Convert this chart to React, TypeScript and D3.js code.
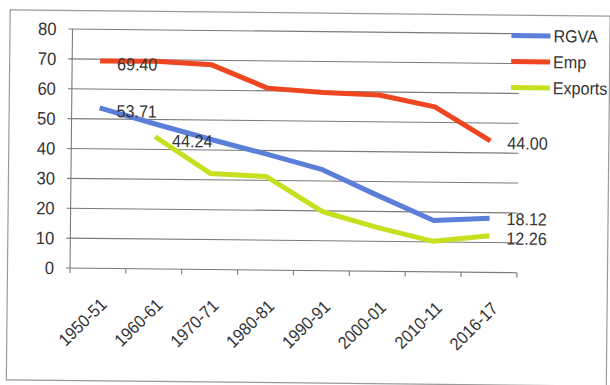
import React from 'react';
import * as d3 from 'd3';

const categories = ['1950-51', '1960-61', '1970-71', '1980-81', '1990-91', '2000-01', '2010-11', '2016-17'];
const rgvaValues: (number | null)[] = [53.71, 48.5, 43.5, 38.8, 33.8, 25.3, 17.2, 18.12];
const empValues: (number | null)[] = [69.4, 69.5, 68.5, 60.9, 59.6, 59.0, 55.2, 44.0];
const exportValues: (number | null)[] = [null, 44.24, 32.1, 31.3, 19.8, 14.6, 10.2, 12.26];
const yTicks = [0, 10, 20, 30, 40, 50, 60, 70, 80];
const seriesNames = ['RGVA', 'Emp', 'Exports'];
const seriesColors = ['#5b7fd8', '#ee4620', '#c6e020'];
const dataLabels = [
  { series: 1, index: 0, text: '69.40', shift: 3 },
  { series: 0, index: 0, text: '53.71', shift: 3 },
  { series: 2, index: 1, text: '44.24', shift: 4 },
  { series: 1, index: 7, text: '44.00', shift: 2 },
  { series: 0, index: 7, text: '18.12', shift: 0.5 },
  { series: 2, index: 7, text: '12.26', shift: 2.5 },
];

const W = 610;
const H = 385;
const left = 70;
const right = 517;
const top = 29;
const bottom = 268;
const FONT = "'Liberation Sans', Arial, sans-serif";
const TEXT = '#333';
const SX = 0.92;

export default function App() {
  const allSeries = [rgvaValues, empValues, exportValues];
  const x = d3.scaleBand<string>().domain(categories).range([left, right]);
  const xc = (i: number) => (x(categories[i]) as number) + x.bandwidth() / 2;
  const y = d3.scaleLinear().domain([0, 80]).range([bottom, top]);
  const line = d3
    .line<number | null>()
    .defined((d) => d != null)
    .x((_, i) => xc(i))
    .y((d) => y(d as number));
  const tickXs = categories.map((c) => x(c) as number).concat([right]);

  return (
    <svg width={W} height={H} style={{ position: 'absolute', left: 0, top: 0, background: '#fff' }}>
      <rect x={0} y={0} width={W} height={H} fill="#fff" />
      <g transform={`rotate(0.6, ${left}, ${bottom})`}>
        <rect x={7.5} y={10.5} width={600} height={370} fill="none" stroke="#9a9a9a" strokeWidth={1.2} />
        {yTicks.map((t) => (
          <g key={t}>
            <line x1={left - 4} x2={right} y1={y(t)} y2={y(t)} stroke="#7a7a7a" strokeWidth={1.1} />
            <text
              transform={`translate(54, ${y(t)}) scale(${SX}, 1)`}
              dy="0.35em"
              textAnchor="end"
              fontFamily={FONT}
              fontSize={18}
              fill={TEXT}
            >
              {t}
            </text>
          </g>
        ))}
        <line x1={left} x2={left} y1={top} y2={bottom} stroke="#7a7a7a" strokeWidth={1.1} />
        {tickXs.map((tx, i) => (
          <line key={i} x1={tx} x2={tx} y1={bottom} y2={bottom + 5} stroke="#7a7a7a" strokeWidth={1.1} />
        ))}
        {categories.map((c, i) => (
          <text
            key={c}
            transform={`translate(${xc(i) + 6}, ${bottom + 33}) rotate(-45) scale(${SX}, 1)`}
            textAnchor="end"
            dy="0.35em"
            fontFamily={FONT}
            fontSize={17.5}
            fill={TEXT}
          >
            {c}
          </text>
        ))}
        {allSeries.map((s, k) => (
          <path
            key={k}
            d={line(s) || ''}
            fill="none"
            stroke={seriesColors[k]}
            strokeWidth={5}
            strokeLinejoin="round"
            strokeLinecap="butt"
          />
        ))}
        {dataLabels.map((l, i) => (
          <text
            key={i}
            transform={`translate(${xc(l.index) + 17}, ${y(allSeries[l.series][l.index] as number) + l.shift}) scale(${SX}, 1)`}
            dy="0.35em"
            fontFamily={FONT}
            fontSize={17.5}
            fill={TEXT}
          >
            {l.text}
          </text>
        ))}
        {seriesNames.map((n, k) => (
          <g key={n} transform={`translate(509, ${31 + k * 26})`}>
            <line x1={0} x2={39} y1={0} y2={0} stroke={seriesColors[k]} strokeWidth={5} />
            <text
              transform={`translate(42, 0) scale(${SX}, 1)`}
              dy="0.35em"
              fontFamily={FONT}
              fontSize={17.5}
              fill={TEXT}
            >
              {n}
            </text>
          </g>
        ))}
      </g>
    </svg>
  );
}
